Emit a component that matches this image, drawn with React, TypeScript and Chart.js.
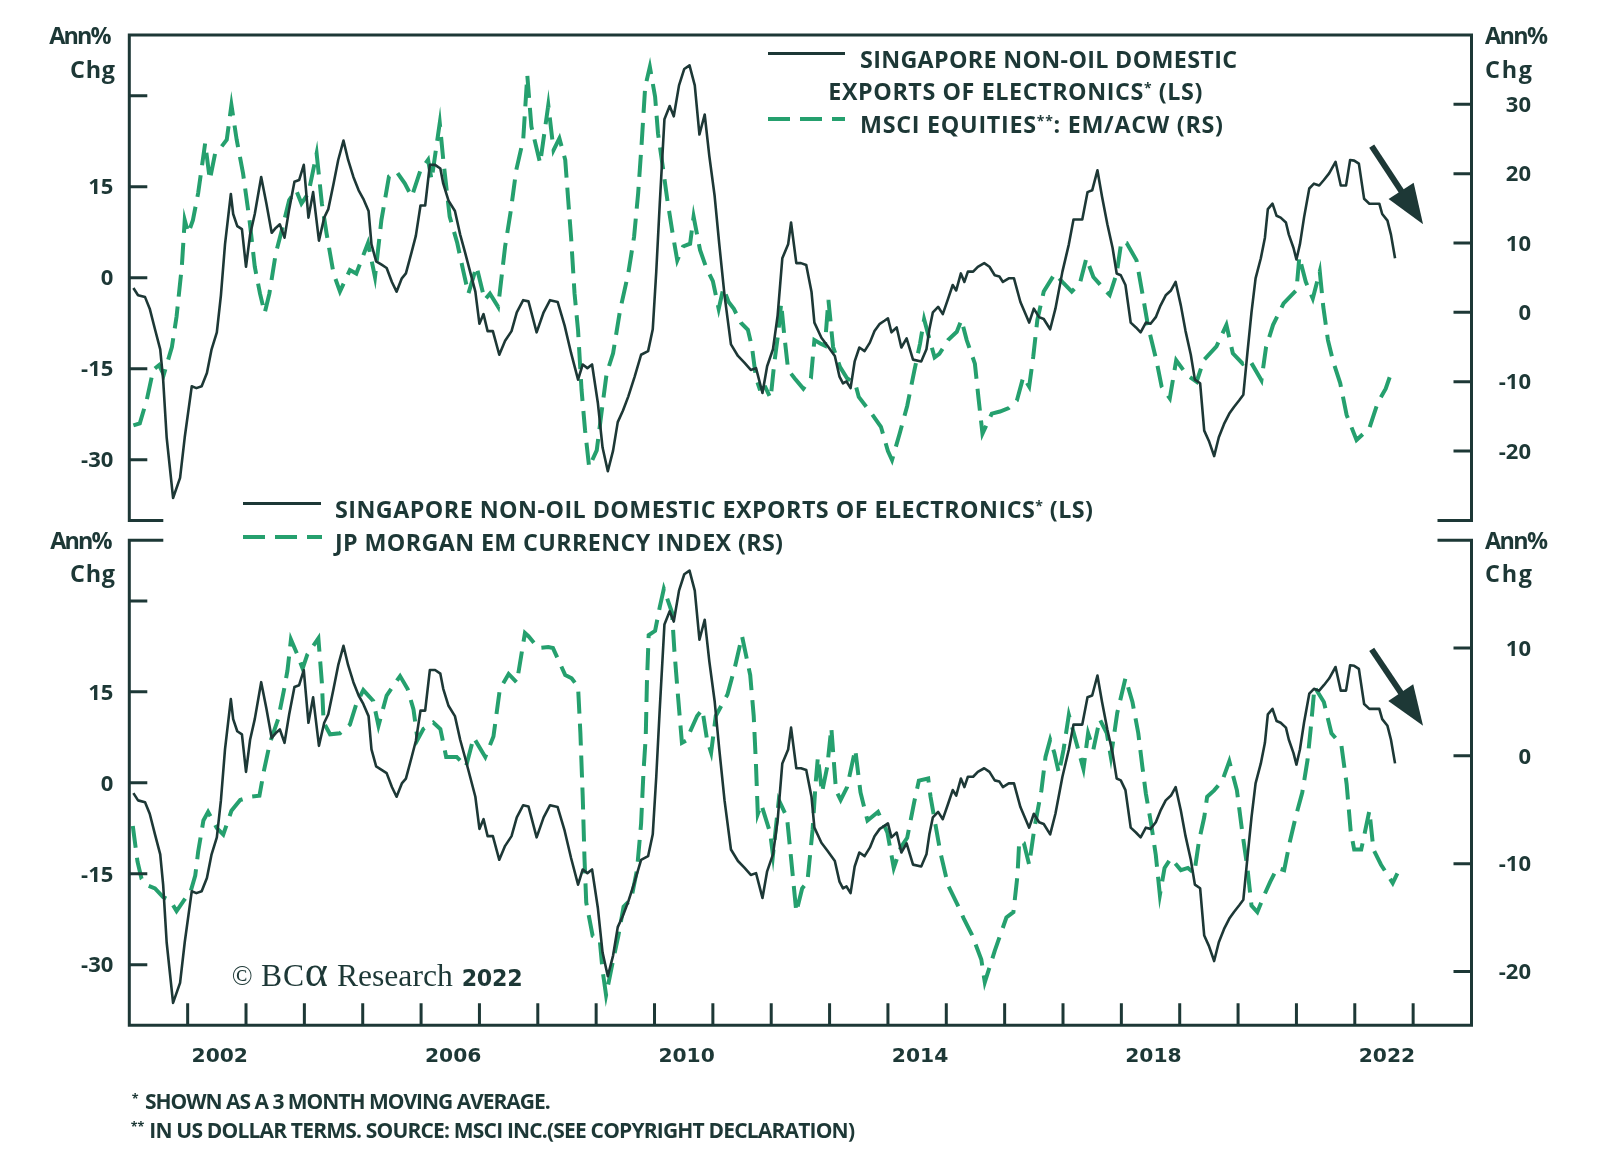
import React, { useEffect, useRef } from 'react';
import { Chart, registerables } from 'chart.js';

Chart.register(...registerables);

const DARK = '#1d3836';
const GREEN = '#25a06e';
const SANS = "'Open Sans', 'Noto Sans', sans-serif";
const SERIF = "'Liberation Serif', 'DejaVu Serif', serif";
const WIDE = "'DejaVu Sans', sans-serif";

// ---------- axes ----------
const X_MIN = 2001;
const X_MAX = 2024;
const yearTicks = [2002, 2003, 2004, 2005, 2006, 2007, 2008, 2009, 2010, 2011, 2012, 2013, 2014, 2015, 2016, 2017, 2018, 2019, 2020, 2021, 2022, 2023];
const yearLabels = [2002, 2006, 2010, 2014, 2018, 2022];
const leftTicks = [-30, -15, 0, 15, 30];
const leftUnlabeled = [30];
const topRightTicks = [-20, -10, 0, 10, 20, 30];
const bottomRightTicks = [-20, -10, 0, 10];

// ---------- data: [decimal year, annual % change] ----------
const electronicsExports: [number, number][] = [
  [2001.07, -1.7], [2001.15, -2.9], [2001.27, -3.2], [2001.35, -5.1], [2001.44, -8.5], [2001.53, -11.8], [2001.58, -16.8],
  [2001.64, -26.3], [2001.75, -36.3], [2001.87, -33.0], [2001.95, -26.3], [2002.07, -17.9], [2002.15, -18.2], [2002.24, -17.9],
  [2002.33, -15.7], [2002.41, -11.8], [2002.50, -9.0], [2002.57, -2.9], [2002.64, 5.5], [2002.74, 13.8], [2002.78, 10.5],
  [2002.85, 8.5], [2002.93, 8.0], [2003.00, 1.8], [2003.07, 7.1], [2003.15, 10.5], [2003.26, 16.6], [2003.35, 12.2],
  [2003.44, 7.4], [2003.51, 8.2], [2003.58, 8.8], [2003.66, 6.6], [2003.74, 11.3], [2003.83, 15.8], [2003.91, 16.1],
  [2003.99, 18.6], [2004.07, 9.9], [2004.15, 14.1], [2004.25, 6.1], [2004.34, 9.9], [2004.41, 11.3], [2004.50, 15.5],
  [2004.58, 19.4], [2004.67, 22.6], [2004.75, 19.4], [2004.84, 16.6], [2004.93, 14.4], [2005.01, 13.0], [2005.10, 11.0],
  [2005.15, 5.5], [2005.23, 2.7], [2005.33, 2.1], [2005.41, 1.6], [2005.50, -0.7], [2005.58, -2.3], [2005.67, -0.1],
  [2005.74, 0.7], [2005.84, 4.3], [2005.91, 6.9], [2005.99, 11.9], [2006.07, 11.9], [2006.15, 18.6], [2006.24, 18.6],
  [2006.33, 18.0], [2006.38, 15.5], [2006.47, 12.7], [2006.58, 11.0], [2006.67, 7.1], [2006.75, 4.3], [2006.84, 1.0],
  [2006.93, -2.3], [2007.00, -7.6], [2007.07, -6.0], [2007.14, -8.8], [2007.23, -8.8], [2007.34, -12.7], [2007.44, -10.4],
  [2007.55, -8.8], [2007.64, -5.7], [2007.75, -3.7], [2007.84, -3.9], [2007.98, -9.0], [2008.10, -5.7], [2008.21, -3.7],
  [2008.34, -4.0], [2008.46, -7.9], [2008.57, -12.4], [2008.69, -16.8], [2008.77, -14.3], [2008.85, -14.9], [2008.93, -14.3],
  [2009.03, -20.7], [2009.11, -28.0], [2009.20, -31.9], [2009.29, -28.5], [2009.37, -23.8], [2009.46, -21.9], [2009.55, -19.6],
  [2009.66, -16.3], [2009.77, -12.7], [2009.89, -12.1], [2009.97, -8.5], [2010.03, 1.0], [2010.09, 12.2], [2010.17, 26.1],
  [2010.26, 28.3], [2010.33, 26.6], [2010.42, 31.7], [2010.51, 34.4], [2010.60, 35.0], [2010.69, 31.7], [2010.77, 23.6],
  [2010.86, 26.9], [2010.94, 20.0], [2011.03, 13.5], [2011.11, 5.5], [2011.20, -2.9], [2011.31, -11.0], [2011.43, -12.9],
  [2011.54, -14.0], [2011.65, -15.2], [2011.74, -14.9], [2011.85, -19.0], [2011.93, -14.6], [2012.03, -11.8], [2012.11, -6.2],
  [2012.19, 3.2], [2012.29, 5.5], [2012.34, 9.1], [2012.43, 2.4], [2012.51, 2.4], [2012.60, 2.1], [2012.69, -2.3],
  [2012.74, -7.4], [2012.86, -9.9], [2012.97, -11.3], [2013.09, -12.9], [2013.17, -16.3], [2013.23, -17.4], [2013.29, -17.1],
  [2013.36, -18.2], [2013.43, -13.8], [2013.51, -11.5], [2013.60, -12.1], [2013.69, -10.7], [2013.77, -8.8], [2013.86, -7.6],
  [2013.94, -7.1], [2014.00, -6.7], [2014.06, -9.0], [2014.15, -8.2], [2014.23, -11.5], [2014.32, -10.0], [2014.43, -13.5],
  [2014.57, -13.8], [2014.66, -11.8], [2014.71, -8.5], [2014.77, -5.7], [2014.86, -4.8], [2014.94, -6.0], [2015.03, -3.5],
  [2015.11, -1.2], [2015.17, -2.1], [2015.25, 0.7], [2015.31, -0.7], [2015.37, 1.0], [2015.46, 1.0], [2015.54, 1.8],
  [2015.65, 2.4], [2015.74, 1.8], [2015.83, 0.4], [2015.91, 0.2], [2015.97, -0.7],
  [2016.07, -0.1], [2016.16, -0.1], [2016.27, -4.0], [2016.42, -7.4], [2016.50, -5.1], [2016.59, -6.5], [2016.67, -6.8],
  [2016.78, -8.5], [2016.87, -5.1], [2016.99, 1.0], [2017.10, 5.5], [2017.18, 9.6], [2017.33, 9.6], [2017.42, 14.1],
  [2017.50, 14.4], [2017.59, 17.7], [2017.67, 13.3], [2017.76, 8.8], [2017.85, 4.9], [2017.92, 0.7], [2017.99, 0.4],
  [2018.07, -1.2], [2018.16, -7.4], [2018.25, -8.2], [2018.33, -9.0], [2018.42, -7.4], [2018.50, -7.6], [2018.59, -6.5],
  [2018.67, -4.6], [2018.76, -2.9], [2018.85, -2.1], [2018.93, -0.7], [2019.02, -4.6], [2019.10, -8.8], [2019.19, -12.7],
  [2019.26, -16.8], [2019.35, -17.4], [2019.42, -25.2], [2019.50, -26.9], [2019.59, -29.4], [2019.67, -26.3], [2019.76, -24.1],
  [2019.85, -22.4], [2019.93, -21.3], [2020.02, -20.2], [2020.09, -19.3], [2020.16, -12.4], [2020.23, -5.7], [2020.30, -0.1],
  [2020.39, 3.2], [2020.46, 6.6], [2020.51, 11.3], [2020.59, 12.2], [2020.66, 10.2], [2020.73, 9.9], [2020.82, 9.1],
  [2020.87, 7.1], [2020.95, 4.9], [2021.00, 3.0], [2021.06, 5.5], [2021.13, 9.9], [2021.22, 14.7], [2021.30, 15.5],
  [2021.39, 15.2], [2021.47, 16.1], [2021.56, 17.2], [2021.67, 19.1], [2021.76, 15.2], [2021.85, 15.2], [2021.92, 19.4],
  [2021.99, 19.3], [2022.07, 18.8], [2022.16, 13.0], [2022.25, 12.2], [2022.33, 12.2], [2022.42, 12.2], [2022.47, 10.5],
  [2022.56, 9.4], [2022.62, 7.1], [2022.69, 3.2],
];

const msciEmVsAcw: [number, number][] = [
  [2001.07, -16.3], [2001.18, -16.0], [2001.30, -12.6], [2001.41, -8.3], [2001.51, -7.6], [2001.59, -9.0], [2001.73, -5.0],
  [2001.81, -0.6], [2001.90, 6.6], [2001.95, 13.3], [2002.01, 11.4], [2002.09, 13.3], [2002.18, 17.2], [2002.30, 24.4],
  [2002.38, 19.1], [2002.47, 22.9], [2002.58, 23.9], [2002.67, 24.9], [2002.75, 29.9], [2002.84, 24.9], [2002.95, 20.0],
  [2003.06, 13.3], [2003.15, 6.6], [2003.24, 2.7], [2003.32, -0.1], [2003.40, 2.7], [2003.51, 8.5], [2003.63, 12.4],
  [2003.74, 16.2], [2003.86, 17.6], [2003.95, 15.7], [2004.07, 17.2], [2004.21, 22.9], [2004.30, 15.7], [2004.38, 11.4],
  [2004.50, 5.6], [2004.61, 3.0], [2004.78, 6.1], [2004.89, 5.6], [2005.09, 10.0], [2005.21, 5.1], [2005.32, 13.3],
  [2005.45, 19.6], [2005.58, 20.3], [2005.72, 18.6], [2005.84, 16.7], [2005.99, 20.5], [2006.12, 22.0], [2006.18, 19.1],
  [2006.32, 27.3], [2006.38, 22.0], [2006.49, 13.8], [2006.62, 10.0], [2006.72, 6.1], [2006.81, 2.7], [2006.95, 6.6],
  [2007.09, 1.8], [2007.18, 2.7], [2007.32, 0.8], [2007.44, 9.5], [2007.54, 14.8], [2007.63, 20.5], [2007.75, 24.9],
  [2007.82, 34.2], [2007.89, 26.8], [2008.04, 21.5], [2008.18, 29.9], [2008.27, 23.4], [2008.37, 25.1], [2008.47, 22.0],
  [2008.53, 15.2], [2008.57, 10.9], [2008.63, 2.7], [2008.69, -2.6], [2008.75, -11.2], [2008.81, -17.0], [2008.88, -22.3],
  [2009.01, -19.9], [2009.09, -14.6], [2009.18, -8.8], [2009.29, -5.9], [2009.41, 0.3], [2009.55, 5.6], [2009.65, 10.9],
  [2009.72, 17.2], [2009.78, 24.4], [2009.84, 32.5], [2009.92, 35.4], [2010.01, 31.1], [2010.06, 25.8], [2010.15, 20.5],
  [2010.22, 16.2], [2010.31, 11.4], [2010.39, 7.5], [2010.49, 9.5], [2010.61, 9.9], [2010.67, 13.8], [2010.78, 9.0],
  [2010.88, 6.6], [2011.00, 4.5], [2011.10, 0.5], [2011.18, 3.5], [2011.27, 1.5], [2011.36, 0.5], [2011.48, -1.5],
  [2011.60, -2.5], [2011.67, -5.0], [2011.74, -9.5], [2011.80, -11.0], [2011.90, -10.8], [2011.99, -12.4], [2012.05, -7.5],
  [2012.12, -3.0], [2012.17, 1.3], [2012.22, -3.0], [2012.29, -8.3], [2012.40, -9.5], [2012.55, -11.0], [2012.68, -9.5],
  [2012.74, -4.0], [2012.84, -4.5], [2012.92, -4.8], [2012.98, 1.8], [2013.06, -5.0], [2013.18, -7.9], [2013.30, -9.5],
  [2013.44, -10.3], [2013.50, -12.2], [2013.72, -14.6], [2013.88, -16.5], [2014.00, -20.0], [2014.07, -21.3], [2014.20, -17.5],
  [2014.33, -13.5], [2014.45, -8.5], [2014.55, -4.5], [2014.62, -1.0], [2014.70, -3.5], [2014.80, -6.5], [2014.88, -6.0],
  [2015.03, -4.0], [2015.18, -2.8], [2015.26, -1.1], [2015.35, -4.0], [2015.49, -7.4], [2015.55, -12.2], [2015.62, -17.5],
  [2015.78, -14.6], [2015.92, -14.3], [2016.07, -13.8], [2016.21, -12.7], [2016.32, -9.3], [2016.42, -10.7], [2016.49, -6.4],
  [2016.56, -1.1], [2016.67, 3.0], [2016.86, 5.6], [2017.01, 4.2], [2017.15, 3.0], [2017.29, 4.2], [2017.40, 7.8],
  [2017.52, 5.1], [2017.72, 3.2], [2017.80, 2.5], [2017.92, 5.6], [2018.00, 10.2], [2018.09, 10.0], [2018.26, 7.5],
  [2018.37, 2.3], [2018.46, -2.1], [2018.60, -6.9], [2018.69, -10.7], [2018.83, -12.4], [2018.94, -6.9], [2019.12, -9.0],
  [2019.29, -10.0], [2019.41, -6.9], [2019.63, -4.9], [2019.80, -1.8], [2019.91, -5.9], [2020.08, -7.4], [2020.20, -6.9],
  [2020.40, -9.8], [2020.48, -5.0], [2020.60, -1.8], [2020.78, 1.3], [2021.00, 3.2], [2021.05, 8.0], [2021.16, 4.4],
  [2021.28, 2.0], [2021.40, 5.9], [2021.46, 0.8], [2021.54, -4.0], [2021.63, -7.1], [2021.75, -10.2], [2021.86, -14.8],
  [2022.03, -18.4], [2022.25, -16.7], [2022.39, -13.1], [2022.53, -11.0], [2022.65, -8.1],
];

const jpmEmCurrency: [number, number][] = [
  [2001.06, -6.5], [2001.14, -9.8], [2001.21, -11.4], [2001.30, -12.0], [2001.44, -12.3], [2001.58, -13.1], [2001.70, -13.4],
  [2001.81, -14.4], [2001.95, -13.3], [2002.05, -12.6], [2002.13, -11.1], [2002.18, -8.9], [2002.27, -6.0], [2002.35, -5.2],
  [2002.50, -6.7], [2002.61, -7.3], [2002.75, -5.1], [2002.90, -4.1], [2003.07, -3.8], [2003.23, -3.7], [2003.31, -1.3],
  [2003.41, 1.2], [2003.55, 3.4], [2003.65, 6.1], [2003.71, 7.9], [2003.77, 10.8], [2003.88, 9.4], [2003.97, 8.1],
  [2004.05, 9.4], [2004.24, 10.9], [2004.30, 6.8], [2004.33, 3.1], [2004.44, 2.0], [2004.61, 2.1], [2004.78, 2.9],
  [2004.89, 4.8], [2005.01, 6.1], [2005.18, 5.1], [2005.27, 2.8], [2005.41, 5.6], [2005.64, 7.4], [2005.77, 6.2],
  [2005.87, 4.3], [2005.94, 1.5], [2006.04, 2.5], [2006.21, 3.1], [2006.33, 2.5], [2006.43, -0.1], [2006.61, -0.1],
  [2006.77, -1.0], [2006.90, 1.7], [2007.10, -0.1], [2007.24, 1.8], [2007.35, 6.2], [2007.50, 7.6], [2007.64, 6.8],
  [2007.78, 11.4], [2007.84, 11.1], [2008.01, 10.0], [2008.18, 10.1], [2008.26, 10.0], [2008.47, 7.5], [2008.58, 7.2],
  [2008.69, 6.4], [2008.73, 2.1], [2008.77, -3.8], [2008.80, -9.5], [2008.83, -13.6], [2008.94, -16.7], [2009.06, -17.0],
  [2009.11, -19.9], [2009.17, -22.2], [2009.27, -19.5], [2009.38, -16.7], [2009.47, -14.0], [2009.60, -13.3], [2009.70, -10.6],
  [2009.77, -6.3], [2009.81, -1.6], [2009.85, 1.8], [2009.87, 6.8], [2009.90, 11.2], [2010.01, 11.6], [2010.09, 13.8],
  [2010.16, 15.5], [2010.30, 13.3], [2010.34, 9.8], [2010.40, 5.7], [2010.47, 1.2], [2010.54, 1.4], [2010.73, 3.7],
  [2010.82, 4.3], [2010.90, 1.5], [2010.97, 0.3], [2011.05, 3.7], [2011.25, 5.7], [2011.38, 8.3], [2011.50, 11.1],
  [2011.64, 7.5], [2011.70, 3.7], [2011.74, -1.0], [2011.77, -5.4], [2011.83, -4.5], [2011.98, -7.1], [2012.03, -9.2],
  [2012.13, -4.1], [2012.27, -5.7], [2012.34, -9.5], [2012.43, -14.5], [2012.53, -12.3], [2012.62, -11.7], [2012.71, -6.8],
  [2012.76, -2.6], [2012.80, -0.1], [2012.87, -3.4], [2012.96, -1.0], [2013.03, 2.6], [2013.11, -3.2], [2013.19, -4.1],
  [2013.30, -2.9], [2013.44, 0.6], [2013.53, -3.4], [2013.65, -6.0], [2013.83, -5.2], [2013.99, -7.1], [2014.10, -10.4],
  [2014.22, -8.5], [2014.33, -7.6], [2014.45, -4.3], [2014.53, -2.3], [2014.69, -2.1], [2014.73, -3.8], [2014.90, -9.0],
  [2015.03, -12.0], [2015.20, -13.9], [2015.30, -15.1], [2015.44, -16.6], [2015.60, -18.9], [2015.66, -21.0], [2015.83, -18.1],
  [2016.03, -15.0], [2016.15, -14.5], [2016.22, -11.1], [2016.25, -7.9], [2016.33, -8.1], [2016.42, -10.1], [2016.51, -6.7],
  [2016.63, -3.2], [2016.70, -0.1], [2016.78, 1.5], [2016.85, 0.3], [2016.93, -1.6], [2017.01, 0.6], [2017.10, 3.8],
  [2017.26, 0.6], [2017.35, -1.2], [2017.43, 2.1], [2017.52, 0.6], [2017.63, 3.4], [2017.75, 2.1], [2017.82, -0.1],
  [2017.93, 4.0], [2018.07, 7.2], [2018.19, 5.0], [2018.29, 2.1], [2018.36, -1.0], [2018.42, -3.5], [2018.51, -6.3],
  [2018.59, -9.2], [2018.66, -12.9], [2018.74, -10.4], [2018.85, -9.5], [2019.02, -10.6], [2019.14, -10.4], [2019.25, -10.9],
  [2019.33, -7.9], [2019.42, -5.7], [2019.47, -3.8], [2019.59, -3.2], [2019.73, -2.3], [2019.85, -0.5], [2019.98, -3.2],
  [2020.07, -7.0], [2020.16, -10.4], [2020.23, -13.9], [2020.33, -14.5], [2020.45, -12.9], [2020.55, -11.7], [2020.67, -10.4],
  [2020.79, -10.6], [2020.89, -7.9], [2020.99, -5.6], [2021.10, -3.4], [2021.19, -0.4], [2021.25, 2.8], [2021.31, 6.4],
  [2021.47, 5.0], [2021.60, 2.1], [2021.77, 1.0], [2021.86, -2.6], [2021.93, -7.0], [2021.99, -8.7], [2022.11, -8.7],
  [2022.25, -5.1], [2022.32, -8.7], [2022.45, -10.1], [2022.65, -11.8], [2022.73, -10.9],
];

// annotation arrows (in data coordinates of the left axis)
const topArrow = { from: [2022.29, 21.7], to: [2023.17, 8.8] };
const bottomArrow = { from: [2022.29, 22.0], to: [2023.17, 9.4] };

// ---------- layout ----------
const PANEL_LEFT = 129.3;
const PANEL_RIGHT = 1471.5;
const RIGHT_LABEL_EDGE = 1531;

const panelPlugin = {
  id: 'panel',
  afterDatasetsDraw(chart: any, _args: any, opts: any) {
    const { ctx, chartArea } = chart;
    const { left, right, top, bottom } = chartArea;
    const stub = 34;
    ctx.save();
    ctx.strokeStyle = DARK;
    ctx.lineWidth = 3;
    ctx.lineJoin = 'miter';
    ctx.lineCap = 'butt';
    ctx.setLineDash([]);
    ctx.beginPath();
    if (opts.open === 'bottom') {
      ctx.moveTo(left + stub, bottom);
      ctx.lineTo(left, bottom);
      ctx.lineTo(left, top);
      ctx.lineTo(right, top);
      ctx.lineTo(right, bottom);
      ctx.lineTo(right - stub, bottom);
    } else {
      ctx.moveTo(left + stub, top);
      ctx.lineTo(left, top);
      ctx.lineTo(left, bottom);
      ctx.lineTo(right, bottom);
      ctx.lineTo(right, top);
      ctx.lineTo(right - stub, top);
    }
    ctx.stroke();

    ctx.beginPath();
    const yl = chart.scales[opts.leftAxis];
    yl.ticks.forEach((t: any) => {
      const y = yl.getPixelForValue(t.value);
      ctx.moveTo(left, y);
      ctx.lineTo(left + 18, y);
    });
    const yr = chart.scales[opts.rightAxis];
    yr.ticks.forEach((t: any) => {
      const y = yr.getPixelForValue(t.value);
      ctx.moveTo(right - 18, y);
      ctx.lineTo(right, y);
    });
    if (opts.xTicks) {
      const xs = chart.scales.x;
      opts.xTicks.forEach((v: number) => {
        const x = xs.getPixelForValue(v);
        ctx.moveTo(x, bottom);
        ctx.lineTo(x, bottom - 22);
      });
    }
    ctx.stroke();

    if (opts.arrow) {
      const a = opts.arrow;
      const xs = chart.scales.x;
      const ys = chart.scales[a.axis];
      const x0 = xs.getPixelForValue(a.from[0]);
      const y0 = ys.getPixelForValue(a.from[1]);
      const x1 = xs.getPixelForValue(a.to[0]);
      const y1 = ys.getPixelForValue(a.to[1]);
      const dx = x1 - x0;
      const dy = y1 - y0;
      const len = Math.hypot(dx, dy);
      const ux = dx / len;
      const uy = dy / len;
      const headLen = 40;
      const headHalf = 15;
      const bx = x1 - ux * headLen;
      const by = y1 - uy * headLen;
      ctx.lineWidth = 6;
      ctx.beginPath();
      ctx.moveTo(x0, y0);
      ctx.lineTo(bx + ux * 4, by + uy * 4);
      ctx.stroke();
      ctx.fillStyle = DARK;
      ctx.beginPath();
      ctx.moveTo(x1, y1);
      ctx.lineTo(bx - uy * headHalf, by + ux * headHalf);
      ctx.lineTo(bx + uy * headHalf, by - ux * headHalf);
      ctx.closePath();
      ctx.fill();
    }
    ctx.restore();
  },
};

const tickFont = { family: SANS, size: 22, weight: 'bold' as any };

function leftAxis() {
  return {
    type: 'linear' as const,
    position: 'left' as const,
    min: -40,
    max: 40,
    afterBuildTicks: (s: any) => {
      s.ticks = leftTicks.map((v) => ({ value: v }));
    },
    afterFit: (s: any) => {
      s.width = PANEL_LEFT;
    },
    grid: { display: false, drawTicks: false },
    border: { display: false },
    ticks: {
      autoSkip: false,
      padding: 16,
      labelOffset: 1.5,
      color: DARK,
      font: tickFont,
      callback: (v: any) => (leftUnlabeled.includes(v) ? '' : String(v)),
    },
  };
}

function rightAxis(min: number, max: number, ticks: number[]) {
  return {
    type: 'linear' as const,
    position: 'right' as const,
    min,
    max,
    afterBuildTicks: (s: any) => {
      s.ticks = ticks.map((v) => ({ value: v }));
    },
    afterFit: (s: any) => {
      s.width = RIGHT_LABEL_EDGE - PANEL_RIGHT;
    },
    grid: { display: false, drawTicks: false },
    border: { display: false },
    ticks: {
      autoSkip: false,
      padding: 0,
      labelOffset: 1.5,
      crossAlign: 'far' as const,
      color: DARK,
      font: tickFont,
      callback: (v: any) => String(v),
    },
  };
}

function solidSet(data: [number, number][]) {
  return { data, yAxisID: 'yL', borderColor: DARK, borderWidth: 2.6, pointRadius: 0, tension: 0, order: 0, borderJoinStyle: 'round' as const };
}
function dashedSet(data: [number, number][]) {
  return { data, yAxisID: 'yR', borderColor: GREEN, borderWidth: 4, borderDash: [22, 10], pointRadius: 0, tension: 0, order: 1 };
}

const TOP_CANVAS_H = 560;
const BOT_CANVAS_TOP = 480;
const BOT_CANVAS_H = 694;

function topConfig(): any {
  return {
    type: 'line',
    data: { datasets: [solidSet(electronicsExports), dashedSet(msciEmVsAcw)] },
    options: {
      animation: false,
      responsive: false,
      events: [],
      layout: { padding: { top: 35, bottom: TOP_CANVAS_H - 520.4, left: 0, right: 1600 - RIGHT_LABEL_EDGE } },
      plugins: {
        legend: { display: false },
        tooltip: { enabled: false },
        panel: { open: 'bottom', leftAxis: 'yL', rightAxis: 'yR', arrow: { ...topArrow, axis: 'yL' } },
      },
      scales: {
        x: { type: 'linear', min: X_MIN, max: X_MAX, display: false },
        yL: leftAxis(),
        yR: rightAxis(-30, 40, topRightTicks),
      },
    },
    plugins: [panelPlugin],
  };
}

function bottomConfig(): any {
  const areaTop = 540.3 - BOT_CANVAS_TOP;
  const areaBottom = 1025.3 - BOT_CANVAS_TOP;
  const xAxisH = 60;
  return {
    type: 'line',
    data: { datasets: [solidSet(electronicsExports), dashedSet(jpmEmCurrency)] },
    options: {
      animation: false,
      responsive: false,
      events: [],
      layout: { padding: { top: areaTop, bottom: BOT_CANVAS_H - areaBottom - xAxisH, left: 0, right: 1600 - RIGHT_LABEL_EDGE } },
      plugins: {
        legend: { display: false },
        tooltip: { enabled: false },
        panel: { open: 'top', leftAxis: 'yL', rightAxis: 'yR', xTicks: yearTicks, arrow: { ...bottomArrow, axis: 'yL' } },
      },
      scales: {
        x: {
          type: 'linear',
          position: 'bottom',
          min: X_MIN,
          max: X_MAX,
          afterBuildTicks: (s: any) => {
            s.ticks = yearLabels.map((y) => ({ value: y + 0.55 }));
          },
          afterFit: (s: any) => {
            s.height = xAxisH;
          },
          grid: { display: false, drawTicks: false },
          border: { display: false },
          ticks: {
            autoSkip: false,
            maxRotation: 0,
            minRotation: 0,
            padding: 19,
            color: DARK,
            font: { family: WIDE, size: 20.3, weight: 'bold' },
            callback: (v: any) => String(Math.floor(v)),
          },
        },
        yL: leftAxis(),
        yR: rightAxis(-25, 20, bottomRightTicks),
      },
    },
    plugins: [panelPlugin],
  };
}

// ---------- html text ----------
const measureCtx: CanvasRenderingContext2D | null =
  typeof document !== 'undefined' ? document.createElement('canvas').getContext('2d') : null;
const BASELINE: Record<string, number> = { sans: 0.888, serif: 0.8375, wide: 0.846 };
const FAMILY: Record<string, string> = { sans: SANS, serif: SERIF, wide: WIDE };

type Piece = { t: string; small?: boolean; big?: number };

function Txt(props: {
  x: number;
  base: number;
  size: number;
  w?: number;
  fam?: 'sans' | 'serif' | 'wide';
  weight?: number;
  right?: boolean;
  pieces: Piece[];
}) {
  const { x, base, size, w, fam = 'sans', weight = 700, right = false, pieces } = props;
  const family = FAMILY[fam];
  let ls = 0;
  if (w && measureCtx) {
    let nat = 0;
    let n = 0;
    for (const p of pieces) {
      const s = p.small ? size * 0.6 : p.big ? size * p.big : size;
      measureCtx.font = `${weight} ${s}px ${family}`;
      nat += measureCtx.measureText(p.t).width;
      n += p.t.length;
    }
    ls = (w - nat) / Math.max(1, n - 1);
  }
  const style: React.CSSProperties = {
    position: 'absolute',
    top: base - BASELINE[fam] * size,
    fontFamily: family,
    fontWeight: weight,
    fontSize: size,
    lineHeight: `${size}px`,
    whiteSpace: 'nowrap',
    letterSpacing: `${ls}px`,
    color: DARK,
  };
  if (right) style.right = 1600 - x - ls;
  else style.left = x;
  return (
    <div style={style}>
      {pieces.map((p, i) =>
        p.small ? (
          <span key={i} style={{ fontSize: size * 0.6, lineHeight: '0px', position: 'relative', top: -size * 0.3 }}>
            {p.t}
          </span>
        ) : p.big ? (
          <span key={i} style={{ fontSize: size * p.big, lineHeight: '0px' }}>
            {p.t}
          </span>
        ) : (
          <span key={i}>{p.t}</span>
        )
      )}
    </div>
  );
}

function SolidMark({ x, y, w }: { x: number; y: number; w: number }) {
  return <div style={{ position: 'absolute', left: x, top: y - 1.5, width: w, height: 3, background: DARK }} />;
}
function DashMark({ x, y, w }: { x: number; y: number; w: number }) {
  return (
    <div
      style={{
        position: 'absolute',
        left: x,
        top: y - 2,
        width: w,
        height: 4,
        background: `repeating-linear-gradient(to right, ${GREEN} 0px, ${GREEN} 22px, transparent 22px, transparent 32px)`,
      }}
    />
  );
}

export default function App() {
  const topRef = useRef<HTMLCanvasElement>(null);
  const botRef = useRef<HTMLCanvasElement>(null);

  useEffect(() => {
    document.body.style.margin = '0';
    const top = new Chart(topRef.current as HTMLCanvasElement, topConfig());
    const bot = new Chart(botRef.current as HTMLCanvasElement, bottomConfig());
    return () => {
      top.destroy();
      bot.destroy();
    };
  }, []);

  const L = 23.4;
  return (
    <div style={{ position: 'absolute', left: 0, top: 0, width: 1600, height: 1174, background: '#ffffff', overflow: 'hidden' }}>
      <canvas ref={topRef} width={1600} height={TOP_CANVAS_H} style={{ position: 'absolute', left: 0, top: 0, width: 1600, height: TOP_CANVAS_H }} />
      <canvas
        ref={botRef}
        width={1600}
        height={BOT_CANVAS_H}
        style={{ position: 'absolute', left: 0, top: BOT_CANVAS_TOP, width: 1600, height: BOT_CANVAS_H }}
      />

      {/* axis unit labels */}
      <Txt x={111.7} base={45} size={L} w={62.4} right pieces={[{ t: 'Ann%' }]} />
      <Txt x={115} base={78.3} size={L} w={45} right pieces={[{ t: 'Chg' }]} />
      <Txt x={1485} base={45} size={L} w={63} pieces={[{ t: 'Ann%' }]} />
      <Txt x={1485} base={78.3} size={L} w={47} pieces={[{ t: 'Chg' }]} />
      <Txt x={112.7} base={550} size={L} w={62.4} right pieces={[{ t: 'Ann%' }]} />
      <Txt x={115} base={583} size={L} w={45} right pieces={[{ t: 'Chg' }]} />
      <Txt x={1485} base={550} size={L} w={63} pieces={[{ t: 'Ann%' }]} />
      <Txt x={1485} base={583} size={L} w={47} pieces={[{ t: 'Chg' }]} />

      {/* top legend */}
      <SolidMark x={768} y={53.3} w={77} />
      <Txt x={860} base={68.3} size={23.3} w={377} pieces={[{ t: 'SINGAPORE NON-OIL DOMESTIC' }]} />
      <Txt x={828.3} base={100.7} size={23.3} w={374} pieces={[{ t: 'EXPORTS OF ELECTRONICS' }, { t: '*', small: true }, { t: ' (LS)' }]} />
      <DashMark x={768} y={119} w={77} />
      <Txt x={860} base={133.3} size={23.3} w={363} pieces={[{ t: 'MSCI EQUITIES' }, { t: '**', small: true }, { t: ': EM/ACW (RS)' }]} />

      {/* bottom legend */}
      <SolidMark x={243.3} y={503.3} w={77.4} />
      <Txt
        x={335}
        base={518.3}
        size={23.3}
        w={758}
        pieces={[{ t: 'SINGAPORE NON-OIL DOMESTIC EXPORTS OF ELECTRONICS' }, { t: '*', small: true }, { t: ' (LS)' }]}
      />
      <DashMark x={243.3} y={536.7} w={79} />
      <Txt x={335} base={551.5} size={23.3} w={448} pieces={[{ t: 'JP MORGAN EM CURRENCY INDEX (RS)' }]} />

      {/* copyright */}
      <Txt x={231.7} base={985} size={27.5} fam="serif" weight={400} pieces={[{ t: '©' }]} />
      <Txt x={261} base={986.4} size={31.6} w={67} fam="serif" weight={400} pieces={[{ t: 'BC' }, { t: 'α', big: 1.4 }]} />
      <Txt x={337} base={986.4} size={31.6} w={115.7} fam="serif" weight={400} pieces={[{ t: 'Research' }]} />
      <Txt x={461.7} base={986} size={22.2} w={61} fam="wide" weight={700} pieces={[{ t: '2022' }]} />

      {/* footnotes */}
      <Txt x={131.7} base={1110} size={21} pieces={[{ t: '*', small: true }]} />
      <Txt x={145} base={1110} size={21} w={405.7} pieces={[{ t: 'SHOWN AS A 3 MONTH MOVING AVERAGE.' }]} />
      <Txt x={130.7} base={1138.3} size={21} pieces={[{ t: '**', small: true }]} />
      <Txt x={149.3} base={1138.3} size={21} w={705.7} pieces={[{ t: 'IN US DOLLAR TERMS. SOURCE: MSCI INC.(SEE COPYRIGHT DECLARATION)' }]} />
    </div>
  );
}
